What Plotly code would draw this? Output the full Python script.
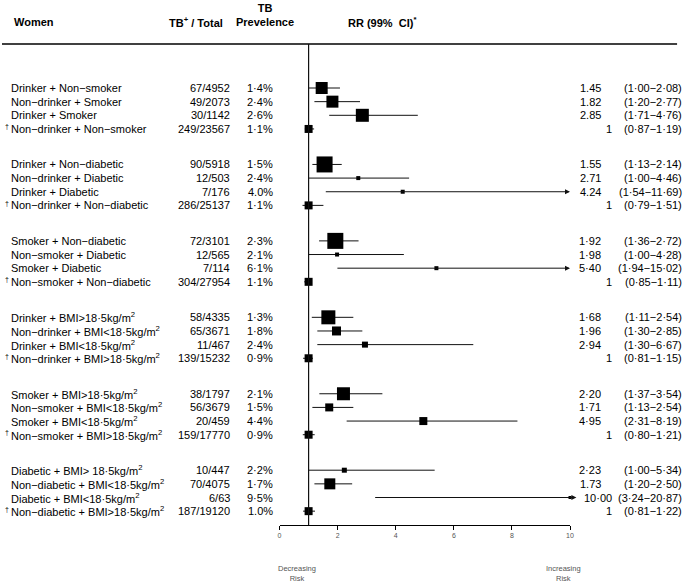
import plotly.graph_objects as go

W, H = 689, 584

labels = [
    "Drinker + Non−smoker", "Non−drinker + Smoker", "Drinker + Smoker", "Non−drinker + Non−smoker",
    "Drinker + Non−diabetic", "Non−drinker + Diabetic", "Drinker + Diabetic", "Non−drinker + Non−diabetic",
    "Smoker + Non−diabetic", "Non−smoker + Diabetic", "Smoker + Diabetic", "Non−smoker + Non−diabetic",
    "Drinker + BMI&gt;18·5kg/m<sup>2</sup>", "Non−drinker + BMI&lt;18·5kg/m<sup>2</sup>",
    "Drinker + BMI&lt;18·5kg/m<sup>2</sup>", "Non−drinker + BMI&gt;18·5kg/m<sup>2</sup>",
    "Smoker + BMI&gt;18·5kg/m<sup>2</sup>", "Non−smoker + BMI&lt;18·5kg/m<sup>2</sup>",
    "Smoker + BMI&lt;18·5kg/m<sup>2</sup>", "Non−smoker + BMI&gt;18·5kg/m<sup>2</sup>",
    "Diabetic + BMI&gt; 18·5kg/m<sup>2</sup>", "Non−diabetic + BMI&lt;18·5kg/m<sup>2</sup>",
    "Diabetic + BMI&lt;18·5kg/m<sup>2</sup>", "Non−diabetic + BMI&gt;18·5kg/m<sup>2</sup>",
]
reference = [False, False, False, True] * 6

counts = ["67/4952", "49/2073", "30/1142", "249/23567",
          "90/5918", "12/503", "7/176", "286/25137",
          "72/3101", "12/565", "7/114", "304/27954",
          "58/4335", "65/3671", "11/467", "139/15232",
          "38/1797", "56/3679", "20/459", "159/17770",
          "10/447", "70/4075", "6/63", "187/19120"]

prevalence = ["1·4%", "2·4%", "2·6%", "1·1%",
              "1·5%", "2·4%", "4.0%", "1·1%",
              "2·3%", "2·1%", "6·1%", "1·1%",
              "1·3%", "1·8%", "2·4%", "0·9%",
              "2·1%", "1·5%", "4·4%", "0·9%",
              "2·2%", "1·7%", "9·5%", "1.0%"]

rr = [1.45, 1.82, 2.85, 1, 1.55, 2.71, 4.24, 1, 1.92, 1.98, 5.40, 1,
      1.68, 1.96, 2.94, 1, 2.20, 1.71, 4.95, 1, 2.23, 1.73, 10.00, 1]
lower = [1.00, 1.20, 1.71, 0.87, 1.13, 1.00, 1.54, 0.79, 1.36, 1.00, 1.94, 0.85,
         1.11, 1.30, 1.30, 0.81, 1.37, 1.13, 2.31, 0.80, 1.00, 1.20, 3.24, 0.81]
upper = [2.08, 2.77, 4.76, 1.19, 2.14, 4.46, 11.69, 1.51, 2.72, 4.28, 15.02, 1.11,
         2.54, 2.85, 6.67, 1.15, 3.54, 2.54, 8.19, 1.21, 5.34, 2.50, 20.87, 1.22]
rr_text = ["1.45", "1.82", "2.85", "1", "1.55", "2.71", "4.24", "1",
           "1·92", "1·98", "5·40", "1", "1·68", "1·96", "2·94", "1",
           "2·20", "1·71", "4·95", "1", "2·23", "1.73", "10·00", "1"]
# relative weight of each estimate (drawn as square size)
weight = [12, 12, 13, 8, 16, 4, 4, 8, 16, 4, 4, 8,
          14, 9, 6, 8, 13, 8, 8, 8, 5, 11, 3, 8]

x_ticks = [0, 2, 4, 6, 8, 10]
x_max = 10

# ---- layout geometry (pixels) ----
row_px0, row_step = 88, 13.65
group_step = 5.6
ypos = [(i // 4) * group_step + (i % 4) for i in range(len(labels))]
axis_px, head_px = 525, 44
y_bottom = (axis_px - row_px0) / row_step
y_top = (head_px - row_px0) / row_step
PAD = 2  # annotation inner padding in px
def py(p):  # pixel -> paper y
    return (H - p) / H
def px(p):
    return p / W

FONT = "Liberation Sans, Arial, sans-serif"
fig = go.Figure()
ann = []

# CI lines (clipped ones drawn as arrows)
lx, ly = [], []
for i in range(len(rr)):
    if upper[i] > x_max:
        tip = x_max + (0.22 if rr[i] >= x_max else 0.0)
        ann.append(dict(x=tip, y=ypos[i], ax=lower[i], ay=ypos[i], xref="x", yref="y",
                        axref="x", ayref="y", text="", showarrow=True, arrowhead=2,
                        arrowsize=1, arrowwidth=1, arrowcolor="#111", standoff=0))
    else:
        lx += [lower[i], upper[i], None]
        ly += [ypos[i], ypos[i], None]
fig.add_trace(go.Scatter(x=lx, y=ly, mode="lines", line=dict(color="#111", width=1),
                         hoverinfo="skip", showlegend=False, cliponaxis=False))
fig.add_trace(go.Scatter(x=rr, y=ypos, mode="markers",
                         marker=dict(symbol="square", size=weight, color="black", opacity=1,
                                     line=dict(width=0)),
                         showlegend=False, cliponaxis=False))

def add(text, x, y, xanchor="left", size=11, yref="y", bold=False, color="black", align="left"):
    if bold:
        text = "<b>" + text + "</b>"
    shift = {"left": -PAD, "right": PAD, "center": 0}[xanchor]
    ann.append(dict(text=text, x=px(x + shift), y=y, xref="paper", yref=yref, xanchor=xanchor,
                    yanchor="middle", showarrow=False, align=align,
                    font=dict(family=FONT, size=size, color=color)))

for i in range(len(labels)):
    y = ypos[i]
    if reference[i]:
        ann.append(dict(text="†", x=px(1), y=y - 0.15, xref="paper", yref="y", xanchor="left",
                        yanchor="middle", showarrow=False, font=dict(family=FONT, size=7, color="black")))
    add(labels[i], 9, y)
    add(counts[i], 230, y, xanchor="right")
    add(prevalence[i], 273, y, xanchor="right")
    rx = 615 if (rr_text[i] == "1" or len(rr_text[i]) > 4) else 604
    add(rr_text[i], rx, y, xanchor="right")
    ci = "({:.2f}−{:.2f})".format(lower[i], upper[i]).replace(".", "·")
    add(ci, 686, y, xanchor="right")

# headers
add("Women", 12, py(22), yref="paper", bold=True)
add("TB<sup>+</sup> / Total", 223, py(22), xanchor="right", yref="paper", bold=True)
add("TB<br>Prevelence", 265, py(15), xanchor="center", yref="paper", bold=True, align="center")
add("RR (99%  CI)<sup>*</sup>", 383, py(22), xanchor="center", yref="paper", bold=True)
add("Decreasing<br>Risk", 298, py(573), xanchor="center", yref="paper", size=7.5,
    color="#555", align="center")
add("Increasing<br>Risk", 566, py(573), xanchor="center", yref="paper", size=7.5,
    color="#555", align="center")

shapes = [
    dict(type="line", xref="paper", yref="paper", x0=0, x1=px(681), y0=py(head_px), y1=py(head_px),
         line=dict(color="black", width=1.6)),
    dict(type="line", xref="x", yref="paper", x0=1, x1=1, y0=py(axis_px), y1=py(head_px),
         line=dict(color="#111", width=1.2)),
]

fig.update_layout(
    width=W, height=H, margin=dict(l=0, r=0, t=0, b=0),
    paper_bgcolor="white", plot_bgcolor="white",
    annotations=ann, shapes=shapes,
    xaxis=dict(domain=[px(280), px(573)], range=[0, x_max], tickvals=x_ticks,
               showgrid=False, zeroline=False, showline=True, linecolor="black", linewidth=1,
               ticks="outside", ticklen=4, tickcolor="black", tickwidth=1,
               tickfont=dict(family=FONT, size=7, color="#555"), fixedrange=True),
    yaxis=dict(domain=[py(axis_px), py(head_px)], range=[y_bottom, y_top], visible=False,
               fixedrange=True),
    font=dict(family=FONT),
)

fig.write_html("out.html", config={"displayModeBar": False},
               post_script="document.body.style.margin='0px';document.body.style.padding='0px';")
